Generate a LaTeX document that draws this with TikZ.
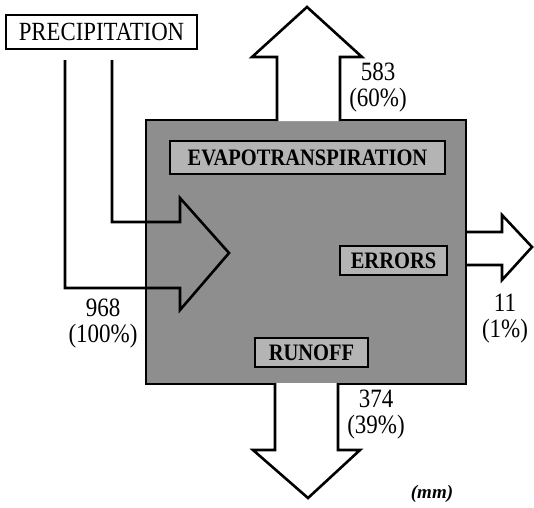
\documentclass[tikz,border=0pt]{standalone}
\usepackage{fontspec}
\usepackage{graphicx}
\setmainfont{Liberation Serif}
\definecolor{boxgray}{HTML}{8E8E8E}
\definecolor{labgray}{HTML}{B4B4B4}
\newcommand{\talltext}[1]{\scalebox{1}[1.15]{#1}}
\begin{document}
\begin{tikzpicture}[x=1pt,y=-1pt,
  flow/.style={draw=black,line width=2.6pt,line join=miter},
  labelbox/.style={draw=black,line width=2.6pt,fill=labgray,inner sep=0pt,
    font=\fontsize{20.5}{22}\selectfont\bfseries},
  num/.style={font=\fontsize{23}{26}\selectfont,inner sep=0pt,align=center}]
\useasboundingbox (0,0) rectangle (534,507);
% main gray block
\fill[boxgray] (146,120) rectangle (466,384);
\draw[line width=1.4pt] (146,120) rectangle (466,384);
% label boxes
\node[labelbox,minimum width=275pt,minimum height=33pt] (evap) at (307.5,157.5) {\talltext{EVAPOTRANSPIRATION}};
\node[labelbox,minimum width=107pt,minimum height=29pt] (err) at (393.5,260.5) {\talltext{ERRORS}};
\node[labelbox,minimum width=113pt,minimum height=29pt] (run) at (311.5,352.5) {\talltext{RUNOFF}};
% precipitation label
\node[draw=black,line width=1.6pt,minimum width=191pt,minimum height=34pt,inner sep=0pt,
  font=\fontsize{22.8}{24}\selectfont] (prec) at (101.5,32) {\talltext{PRECIPITATION}};
% precipitation arrow (input)
\coordinate (pa) at (112,60);
\coordinate (pb) at (65,60);
\draw[flow] (pa) -- (112,222) -- (180,222) -- (180,198) -- (229,253) -- (180,310) -- (180,288) -- (65,288) -- (pb);
% evapotranspiration arrow
\filldraw[flow,fill=white] (277,121) -- (277,57) -- (252,57) -- (307,7) -- (362,57) -- (340,57) -- (340,121);
% errors arrow
\filldraw[flow,fill=white] (467,232) -- (502,232) -- (502,215) -- (532,247) -- (502,280) -- (502,265) -- (467,265);
% runoff arrow
\filldraw[flow,fill=white] (275,383) -- (275,450) -- (253,450) -- (308,498) -- (360,450) -- (338,450) -- (338,383);
% numbers
\node[num] (n583) at (378,88) {\talltext{583}\\\talltext{(60\%)}};
\node[num] (n968) at (103,324) {\talltext{968}\\\talltext{(100\%)}};
\node[num] (n11) at (505,319) {\talltext{11}\\\talltext{(1\%)}};
\node[num] (n374) at (376,415) {\talltext{374}\\\talltext{(39\%)}};
\node[font=\fontsize{19}{21}\selectfont\bfseries\itshape] (mm) at (432,494) {(mm)};
\end{tikzpicture}
\end{document}
